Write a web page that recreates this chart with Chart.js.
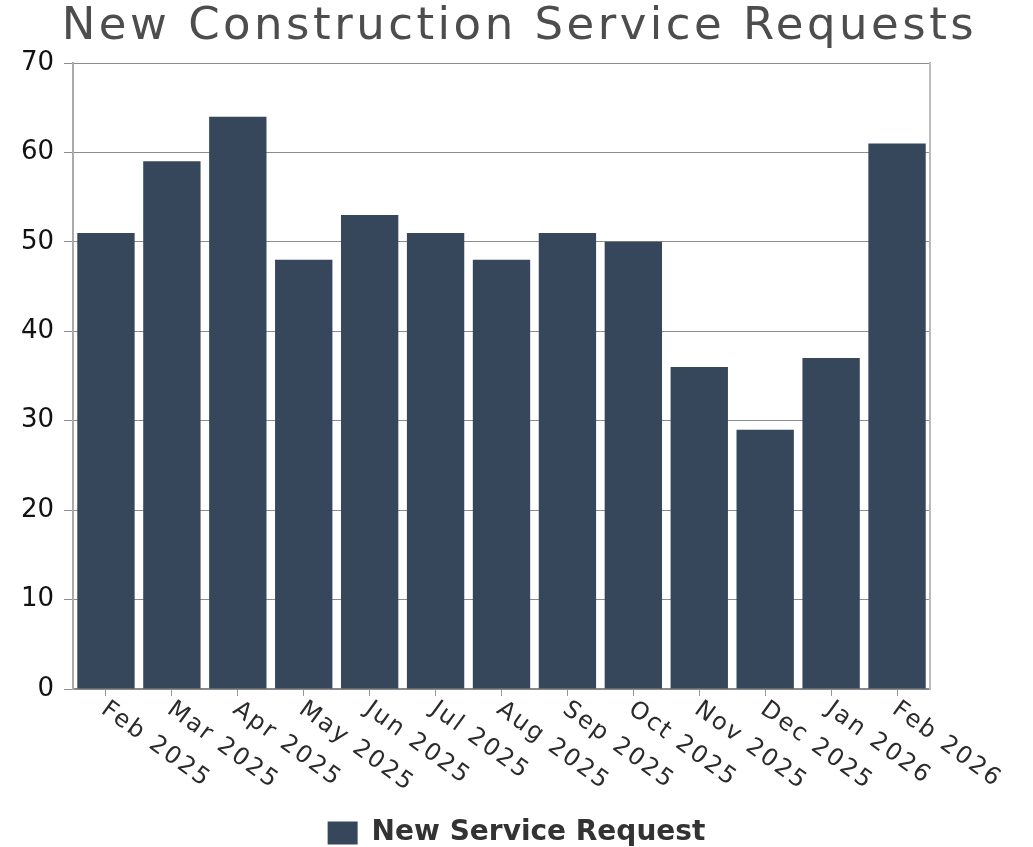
<!DOCTYPE html>
<html>
<head>
<meta charset="utf-8">
<title>New Construction Service Requests</title>
<style>
  html, body { margin: 0; padding: 0; background: #ffffff; }
  #wrap { width: 1033px; height: 847px; position: relative; }
</style>
<script src="https://cdn.jsdelivr.net/npm/chart.js@4.4.1/dist/chart.umd.min.js"></script>
</head>
<body>
<div id="wrap"><canvas id="chart"></canvas></div>
<script>
// Monthly counts of new construction service requests
const chartTitle = 'New Construction Service Requests';
const seriesName = 'New Service Request';
const months = ['Feb 2025', 'Mar 2025', 'Apr 2025', 'May 2025', 'Jun 2025', 'Jul 2025',
                'Aug 2025', 'Sep 2025', 'Oct 2025', 'Nov 2025', 'Dec 2025', 'Jan 2026', 'Feb 2026'];
const requests = [51, 59, 64, 48, 53, 51, 48, 51, 50, 36, 29, 37, 61];
const yMin = 0;
const yMax = 70;
const yStep = 10;

const FONT = '"DejaVu Sans", "Liberation Sans", sans-serif';
const BAR_COLOR = '#36465b';

// Title drawn centred across the top of the canvas
const titlePlugin = {
  id: 'wideTitle',
  afterDraw(chart) {
    const { ctx, width } = chart;
    ctx.save();
    ctx.font = '45px ' + FONT;
    ctx.letterSpacing = '3.5px';
    ctx.fillStyle = '#4d4d4d';
    ctx.textAlign = 'center';
    ctx.textBaseline = 'alphabetic';
    ctx.fillText(chartTitle, width / 2 + 3, 39);
    ctx.restore();
  }
};

// Month labels slanting down to the right from each tick
const slantedLabels = {
  id: 'slantedLabels',
  afterDraw(chart) {
    const { ctx } = chart;
    const x = chart.scales.x;
    const angle = 36 * Math.PI / 180;
    ctx.save();
    ctx.font = '24px ' + FONT;
    ctx.letterSpacing = '2.2px';
    ctx.fillStyle = '#2b2b2b';
    ctx.textAlign = 'left';
    ctx.textBaseline = 'alphabetic';
    months.forEach((label, i) => {
      const px = x.getPixelForValue(i);
      ctx.save();
      ctx.translate(px - 6, x.top + 23);
      ctx.rotate(angle);
      ctx.fillText(label, 0, 0);
      ctx.restore();
    });
    ctx.restore();
  }
};

new Chart(document.getElementById('chart'), {
  type: 'bar',
  data: {
    labels: months,
    datasets: [{
      label: seriesName,
      data: requests,
      backgroundColor: BAR_COLOR,
      borderWidth: 0,
      barPercentage: 0.87,
      categoryPercentage: 1.0
    }]
  },
  options: {
    responsive: true,
    maintainAspectRatio: false,
    animation: false,
    devicePixelRatio: 1,
    layout: { padding: { top: 63, left: 0, right: 0, bottom: -10 } },
    plugins: {
      title: { display: false },
      tooltip: { enabled: false },
      legend: {
        display: true,
        position: 'bottom',
        labels: {
          boxWidth: 30,
          boxHeight: 23,
          padding: 10,
          color: '#333333',
          font: { family: FONT, size: 28, weight: 'bold' }
        }
      }
    },
    scales: {
      x: {
        offset: true,
        grid: {
          display: true,
          offset: false,
          drawOnChartArea: false,
          drawTicks: true,
          tickLength: 7,
          color: '#999999'
        },
        border: { display: true, color: '#888888', width: 1.5 },
        ticks: { display: false },
        afterFit(scale) { scale.height = 120; }
      },
      y: {
        min: yMin,
        max: yMax,
        ticks: {
          stepSize: yStep,
          padding: 10,
          color: '#111111',
          font: { family: FONT, size: 26 }
        },
        grid: {
          color: '#8c8c8c',
          lineWidth: 1,
          drawTicks: true,
          tickLength: 9
        },
        border: { display: true, color: '#aaaaaa', width: 2 },
        afterFit(scale) { scale.width = 73; }
      },
      yRight: {
        position: 'right',
        display: true,
        grid: { drawOnChartArea: false, drawTicks: false },
        ticks: { display: false },
        border: { display: true, color: '#bbbbbb', width: 2 },
        afterFit(scale) { scale.width = 103; }
      }
    }
  },
  plugins: [titlePlugin, slantedLabels]
});
</script>
</body>
</html>
